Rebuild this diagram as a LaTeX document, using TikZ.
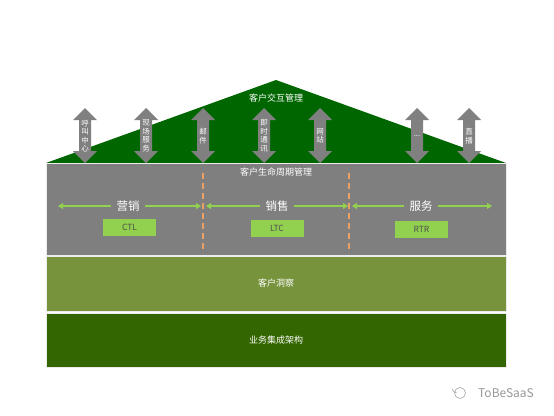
\documentclass[tikz,border=0pt]{standalone}
\usepackage{fontspec}
\setmainfont{Noto Sans CJK SC}
\usetikzlibrary{arrows.meta}
\definecolor{roofgreen}{HTML}{006600}
\definecolor{bandgray}{HTML}{7F7F7F}
\definecolor{insightgreen}{HTML}{77933C}
\definecolor{basegreen}{HTML}{336600}
\definecolor{lightgreen}{HTML}{92D050}
\definecolor{arrowgray}{HTML}{808080}
\definecolor{dashorange}{HTML}{EDA064}
\definecolor{boxtext}{HTML}{4D4D4D}
\tikzset{
  band/.style={draw=white!85!gray, line width=0.8pt, minimum width=460pt, text=white, font=\fontsize{9}{11}\selectfont, inner sep=0pt},
  label/.style={text=white, font=\fontsize{9}{11}\selectfont, inner sep=0pt},
  phase/.style={text=white, font=\fontsize{11.5}{13}\selectfont, inner sep=5pt},
  garrow/.style={draw=lightgreen, line width=2.2pt, -{Triangle[length=5pt,width=6pt]}},
  codebox/.style={fill=lightgreen, text=boxtext, font=\fontsize{8.5}{10}\selectfont, minimum width=53pt, minimum height=17pt, inner sep=0pt},
  vlabel/.style={text=white, font=\fontsize{7.5}{8.5}\selectfont, align=center, inner sep=0pt},
  divider/.style={draw=dashorange, line width=1.4pt, dash pattern=on 6pt off 4pt},
}
\begin{document}
\begin{tikzpicture}[x=1pt, y=-1pt]
\useasboundingbox[fill=white] (0,0) rectangle (554,415);
% roof
\fill[roofgreen] (46,163) -- (276,80) -- (506,163) -- cycle;
% bands
\node[band, fill=bandgray, minimum height=92pt] (life) at (276,209) {};
\node[band, fill=insightgreen, minimum height=55pt] (insight) at (276,283.5) {客户洞察};
\node[band, fill=basegreen, minimum height=54pt] (base) at (276,340) {业务集成架构};
% labels
\node[label] (roofl) at (276,98) {客户交互管理};
\node[label] (lifel) at (276,172) {客户生命周期管理};
% vertical double arrows
\foreach \x/\t/\n in {85/{呼\\叫\\中\\心}/a1, 146/{现\\场\\服\\务}/a2, 203/{邮\\件}/a3, 264/{即\\时\\通\\讯}/a4, 320/{网\\站}/a5, 417/{...}/a6, 469/{直\\播}/a7}{
  \fill[arrowgray] (\x,108) -- (\x+12,120) -- (\x+6,120) -- (\x+6,151) -- (\x+12,151) -- (\x,163) -- (\x-12,151) -- (\x-6,151) -- (\x-6,120) -- (\x-12,120) -- cycle;
  \node[vlabel] (\n) at (\x,136) {\t};
}
% dividers
\coordinate (d1t) at (203,173); \coordinate (d1b) at (203,253);
\coordinate (d2t) at (349,173); \coordinate (d2b) at (349,253);
\draw[divider] (d1t) -- (d1b);
\draw[divider] (d2t) -- (d2b);
% phases
\node[phase] (yx) at (128,206) {营销};
\node[phase] (xs) at (277,206) {销售};
\node[phase] (fw) at (421,206) {服务};
\coordinate (yxl) at (58,206); \coordinate (yxr) at (201,206);
\coordinate (xsl) at (206,206); \coordinate (xsr) at (348,206);
\coordinate (fwl) at (352,206); \coordinate (fwr) at (492,206);
\draw[garrow] (yx.west) -- (yxl);
\draw[garrow] (yx.east) -- (yxr);
\draw[garrow] (xs.west) -- (xsl);
\draw[garrow] (xs.east) -- (xsr);
\draw[garrow] (fw.west) -- (fwl);
\draw[garrow] (fw.east) -- (fwr);
% boxes
\node[codebox] (ctl) at (129.5,227.5) {CTL};
\node[codebox] (ltc) at (277,228) {LTC};
\node[codebox] (rtr) at (421.5,229.5) {RTR};
% watermark
\draw[gray!70, line width=0.6pt] (460,393) circle (5.5pt);
\draw[gray!70, line width=0.6pt] (452,389) arc (200:260:6pt);
\node[text=gray!80, font=\fontsize{12}{14}\selectfont, inner sep=0pt] (wm) at (506,393) {ToBeSaaS};
\end{tikzpicture}
\end{document}
